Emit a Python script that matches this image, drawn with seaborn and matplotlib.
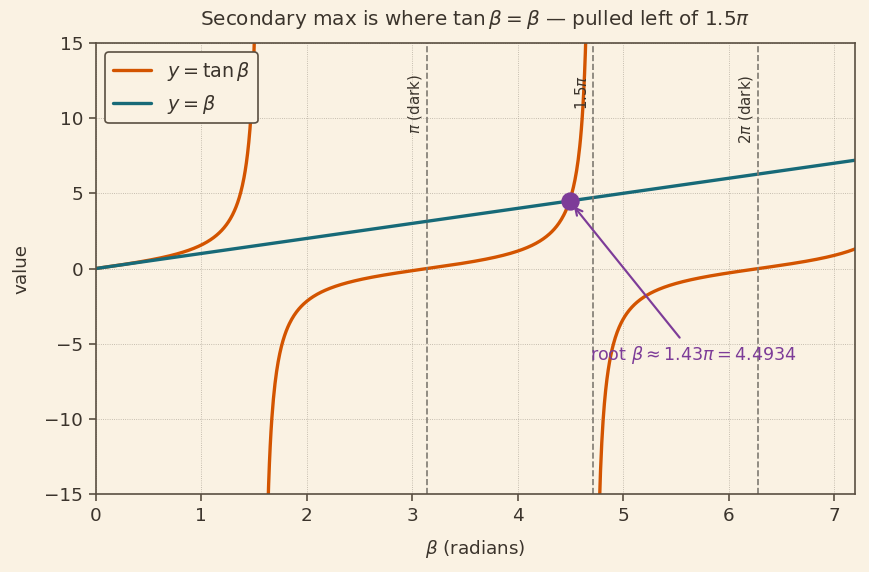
import numpy as np
import pandas as pd
import seaborn as sns
import matplotlib.pyplot as plt

# --- data ---
branch_edges = [(0.0, np.pi / 2 - 0.062), (np.pi / 2 + 0.062, 1.5 * np.pi - 0.062), (1.5 * np.pi + 0.062, 7.2)]
line_beta = [0.0, 7.2]
ref_x = [np.pi, 1.5 * np.pi, 2 * np.pi]
ref_labels = [r'$\pi$ (dark)', r'$1.5\pi$', r'$2\pi$ (dark)']
root_beta = 4.4934

frames = []
for i, (a, b) in enumerate(branch_edges):
    bb = np.linspace(a, b, 400)
    frames.append(pd.DataFrame({'beta': bb, 'val': np.tan(bb), 'branch': i}))
tan_df = pd.concat(frames, ignore_index=True)
lin_df = pd.DataFrame({'beta': line_beta, 'val': line_beta})

# --- style ---
bg = '#faf2e3'
ink = '#3b342c'
spine = '#5a4f42'
orange = '#d35400'
teal = '#176a78'
purple = '#7d3c98'

sns.set_theme(style='ticks')
plt.rcParams.update({
    'figure.facecolor': bg, 'axes.facecolor': bg,
    'axes.edgecolor': spine, 'axes.labelcolor': ink,
    'xtick.color': spine, 'ytick.color': spine,
    'xtick.labelcolor': ink, 'ytick.labelcolor': ink,
    'text.color': ink, 'font.size': 11,
    'xtick.labelsize': 11, 'ytick.labelsize': 11,
})
plt.rcParams['font.family'] = ['DejaVu Sans']

fig, ax = plt.subplots(figsize=(869 / 120, 572 / 120), dpi=120)

for i in range(len(branch_edges)):
    sns.lineplot(data=tan_df[tan_df['branch'] == i], x='beta', y='val', color=orange, lw=2.0,
                 label=r'$y = \tan\beta$' if i == 0 else None, ax=ax, legend=False)
sns.lineplot(data=lin_df, x='beta', y='val', color=teal, lw=2.0, label=r'$y = \beta$', ax=ax, legend=False)

for x, lab in zip(ref_x, ref_labels):
    ax.axvline(x, color='#7f7a72', ls='--', lw=1.0)
    ax.text(x - 0.03, 12.9, lab, rotation=90, ha='right', va='top', fontsize=9, color=ink)

ax.plot([root_beta], [root_beta], 'o', color=purple, ms=10, zorder=5)
ax.annotate(r'root $\beta \approx 1.43\pi = 4.4934$', xy=(root_beta, root_beta), xytext=(5.67, -5.75),
            ha='center', va='center', fontsize=10.5, color=purple,
            arrowprops=dict(arrowstyle='->', color=purple, lw=1.3, shrinkA=2, shrinkB=4))

ax.set_xlim(0, 7.2)
ax.set_ylim(-15, 15)
ax.set_yticks([-15, -10, -5, 0, 5, 10, 15])
ax.grid(True, ls=':', lw=0.5, color='#b5ad9f')
for s in ax.spines.values():
    s.set_color(spine)
    s.set_linewidth(1.0)
ax.tick_params(direction='out', length=4, width=1)

ax.set_xlabel(r'$\beta$ (radians)', fontsize=11, labelpad=8)
ax.set_ylabel('value', fontsize=11, labelpad=8)
ax.set_title(r'Secondary max is where $\tan\beta = \beta$ — pulled left of $1.5\pi$', fontsize=12, color=ink, pad=11)

leg = ax.legend(loc='upper left', fontsize=11.5, frameon=True, fancybox=True)
leg.get_frame().set_edgecolor(spine)
leg.get_frame().set_facecolor(bg)
leg.get_frame().set_alpha(1)
leg.get_frame().set_linewidth(1.0)

fig.subplots_adjust(left=0.11, right=0.984, top=0.925, bottom=0.136)
fig.savefig('out.png', dpi=120, facecolor=bg)
